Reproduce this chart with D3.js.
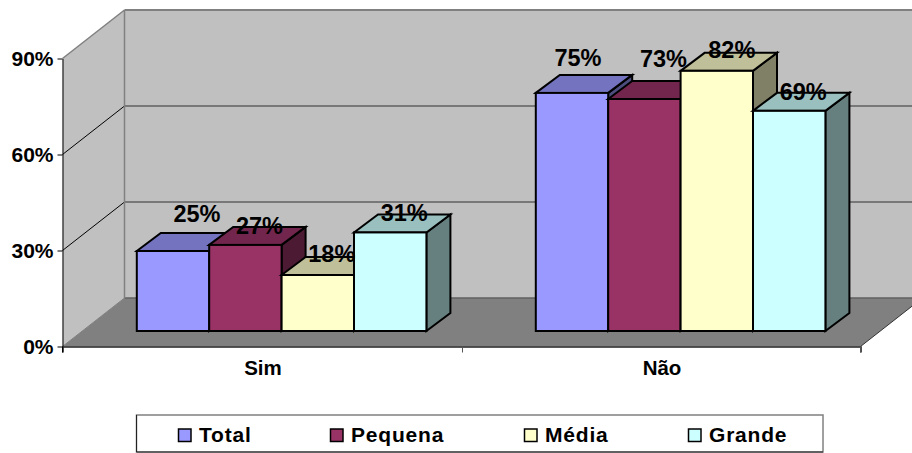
<!DOCTYPE html>
<html>
<head>
<meta charset="utf-8">
<script src="https://cdn.jsdelivr.net/npm/d3@7"></script>
<style>
  html, body { margin: 0; padding: 0; background: #fff; overflow: hidden; }
  text { font-family: "Liberation Sans", Arial, sans-serif; font-weight: bold; fill: #000; }
</style>
</head>
<body>
<svg id="chart" width="912" height="453"></svg>
<script>
var categories = ['Sim', 'Não'];
var seriesNames = ['Total', 'Pequena', 'Média', 'Grande'];
var tickValues = [0, 30, 60, 90];

// the labels are rounded from these
var simValues = [25, 26.9, 17.5, 30.8];
var naoValues = [74.4, 72.5, 81.3, 68.8];
var simLabels = ['25%', '27%', '18%', '31%'];
var naoLabels = ['75%', '73%', '82%', '69%'];

var frontColors = ['#9999ff', '#993366', '#ffffcc', '#ccffff'];
var topColors = ['#7373bf', '#73264d', '#bfbf99', '#99bfbf'];
var sideColors = ['#4d4d80', '#4d1a33', '#808066', '#668080'];

var svg = d3.select('#chart');

var chart = { left: 62.5, right: 860.5, bottom: 346.5, top: 58.5, depthX: 62, depthY: -48.5 };
var bar = { width: 72.4, depthX: 24, depthY: -18, shiftX: 19.6, shiftY: -15.5 };

// the labels were hand placed in the original, so nudge each one from its bar top
var labelNudge = {
  'Sim': [[24, -37], [14, -19], [14, -21], [14, -19]],
  'Não': [[6, -35], [19, -40], [15, -21], [14, -19]]
};

var x = d3.scaleBand().domain(categories).range([chart.left, chart.right]);
var y = d3.scaleLinear().domain([0, 90]).range([chart.bottom, chart.top]);
var inner = d3.scaleBand().domain(seriesNames)
  .range([-2 * bar.width, 2 * bar.width]);

function poly(points) {
  return 'M' + points.map(function(p) { return p.join(','); }).join('L') + 'Z';
}

// walls and floor
var backX = chart.left + chart.depthX;
var backRight = chart.right + chart.depthX;
var backTop = chart.top + chart.depthY;
var backBottom = chart.bottom + chart.depthY;

svg.append('path')
  .attr('fill', '#c0c0c0')
  .attr('d', poly([[chart.left, chart.top], [backX, backTop], [backX, backBottom], [chart.left, chart.bottom]]));
svg.append('rect')
  .attr('x', backX).attr('y', backTop)
  .attr('width', backRight - backX).attr('height', backBottom - backTop)
  .attr('fill', '#c0c0c0');
svg.append('path')
  .attr('fill', '#808080')
  .attr('d', poly([[chart.left, chart.bottom], [backX, backBottom], [backRight, backBottom], [chart.right, chart.bottom]]));

// gridlines on both walls
tickValues.forEach(function(t) {
  var edge = t === 90;
  var color = edge ? '#808080' : '#606060';
  if (t > 0) {
    svg.append('line')
      .attr('x1', chart.left).attr('y1', y(t))
      .attr('x2', backX).attr('y2', y(t) + chart.depthY)
      .attr('stroke', edge ? '#808080' : '#000')
      .attr('stroke-width', edge ? 1.5 : 1);
  }
  svg.append('line')
    .attr('x1', backX).attr('y1', y(t) + chart.depthY)
    .attr('x2', backRight).attr('y2', y(t) + chart.depthY)
    .attr('stroke', color)
    .attr('stroke-width', edge ? 2 : 1.3);
});
svg.append('line')
  .attr('x1', backX).attr('y1', backTop).attr('x2', backX).attr('y2', backBottom)
  .attr('stroke', '#808080').attr('stroke-width', 1.5);
svg.append('line')
  .attr('x1', chart.left).attr('y1', chart.bottom).attr('x2', backX).attr('y2', backBottom)
  .attr('stroke', '#808080').attr('stroke-width', 1);
svg.append('line')
  .attr('x1', chart.right).attr('y1', chart.bottom).attr('x2', backRight).attr('y2', backBottom)
  .attr('stroke', '#333').attr('stroke-width', 1);

// bars, back to front in series order
var groups = [
  { name: 'Sim', values: simValues, labels: simLabels },
  { name: 'Não', values: naoValues, labels: naoLabels }
];

groups.forEach(function(group) {
  var center = x(group.name) + x.bandwidth() / 2 + bar.shiftX;
  group.values.forEach(function(v, i) {
    var x0 = center + inner(seriesNames[i]);
    var x1 = x0 + inner.bandwidth();
    var base = chart.bottom + bar.shiftY;
    var top = y(v) + bar.shiftY;
    var g = svg.append('g')
      .attr('stroke', '#000').attr('stroke-width', 2).attr('stroke-linejoin', 'miter');
    g.append('path').attr('fill', sideColors[i])
      .attr('d', poly([[x1, base], [x1 + bar.depthX, base + bar.depthY], [x1 + bar.depthX, top + bar.depthY], [x1, top]]));
    g.append('path').attr('fill', topColors[i])
      .attr('d', poly([[x0, top], [x0 + bar.depthX, top + bar.depthY], [x1 + bar.depthX, top + bar.depthY], [x1, top]]));
    g.append('rect').attr('fill', frontColors[i])
      .attr('x', x0).attr('y', top).attr('width', x1 - x0).attr('height', base - top);
  });
});

// data labels sit above everything
groups.forEach(function(group) {
  var center = x(group.name) + x.bandwidth() / 2 + bar.shiftX;
  group.values.forEach(function(v, i) {
    var nudge = labelNudge[group.name][i];
    svg.append('text')
      .attr('x', center + inner(seriesNames[i]) + inner.bandwidth() / 2 + nudge[0])
      .attr('y', y(v) + bar.shiftY + nudge[1])
      .attr('text-anchor', 'middle')
      .attr('dominant-baseline', 'central')
      .style('font-size', '23.5px')
      .text(group.labels[i]);
  });
});

// axes
var yAxis = d3.axisLeft(y).tickValues(tickValues).tickSize(5).tickSizeOuter(0)
  .tickFormat(function(d) { return d + '%'; });
var yAxisG = svg.append('g')
  .attr('transform', 'translate(' + chart.left + ',0)')
  .call(yAxis);
yAxisG.selectAll('text').style('font-size', '21px').attr('x', -9).attr('dy', '0.31em').attr('fill', '#000');
yAxisG.selectAll('path, line').attr('stroke', '#000');

var xAxis = d3.axisBottom(x).tickSize(6).tickFormat(function() { return ''; });
var xAxisG = svg.append('g')
  .attr('transform', 'translate(0,' + chart.bottom + ')')
  .call(xAxis);
xAxisG.select('path').attr('stroke', '#222').attr('stroke-width', 1.6);
xAxisG.selectAll('.tick').remove();
[chart.left, x('Não') + 1, chart.right].forEach(function(px) {
  xAxisG.append('line')
    .attr('x1', px).attr('x2', px).attr('y1', 0).attr('y2', 6)
    .attr('stroke', px === chart.left ? '#000' : '#555');
});
categories.forEach(function(c) {
  svg.append('text')
    .attr('x', x(c) + x.bandwidth() / 2 + 1)
    .attr('y', 375)
    .attr('text-anchor', 'middle')
    .style('font-size', '20.5px')
    .text(c);
});

// legend
var legendSwatchX = [178.5, 330.5, 524.5, 688.5];
var legendTextX = [199, 351, 545, 709];

svg.append('rect')
  .attr('x', 136.5).attr('y', 415)
  .attr('width', 686.5).attr('height', 37)
  .attr('fill', '#fff').attr('stroke', '#808080').attr('stroke-width', 1.5);
svg.append('path')
  .attr('d', 'M136.5,415V452H823')
  .attr('fill', 'none').attr('stroke', '#222').attr('stroke-width', 1);

seriesNames.forEach(function(name, i) {
  svg.append('rect')
    .attr('x', legendSwatchX[i]).attr('y', 429)
    .attr('width', 12.5).attr('height', 12.5)
    .attr('fill', frontColors[i])
    .attr('stroke', '#000').attr('stroke-width', 1.5);
  svg.append('text')
    .attr('x', legendTextX[i]).attr('y', 442)
    .style('font-size', '21px')
    .style('letter-spacing', '0.8px')
    .text(name);
});
</script>
</body>
</html>
